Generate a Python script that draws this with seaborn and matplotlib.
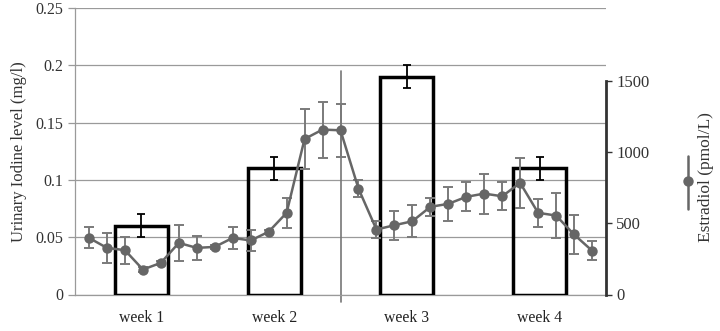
import numpy as np
import pandas as pd
import matplotlib
matplotlib.use("Agg")
import matplotlib.pyplot as plt
from matplotlib.lines import Line2D
import seaborn as sns

# weekly urinary iodine (mg/l)
weeks = ["week 1", "week 2", "week 3", "week 4"]
iodine = [0.06, 0.11, 0.19, 0.11]
iodine_err = [0.01, 0.01, 0.01, 0.01]

# daily estradiol (pmol/L)
estradiol = [397, 327, 311, 175, 222, 362, 327, 334, 397, 379, 440, 573, 1091, 1157, 1152,
             743, 456, 486, 514, 615, 636, 685, 708, 689, 783, 573, 554, 421, 308]
estradiol_err = [74, 104, 95, 15, 15, 128, 82, 15, 80, 75, 15, 103, 208, 196, 186,
                 62, 61, 102, 111, 64, 120, 102, 140, 99, 176, 99, 158, 134, 67]
days = list(range(len(estradiol)))

sns.set_style("white")
plt.rcParams["font.family"] = ["Liberation Serif", "DejaVu Serif"]

fig = plt.figure(figsize=(7.2, 3.31), dpi=100)
ax = fig.add_axes([75 / 720, 36.5 / 331, 531 / 720, 286.5 / 331])

df = pd.DataFrame({"week": weeks, "iodine": iodine})
sns.barplot(data=df, x="week", y="iodine", ax=ax, width=0.4, fill=False,
            edgecolor="black", linewidth=2.5, zorder=3)
ax.errorbar(range(len(weeks)), iodine, yerr=iodine_err, fmt="none", ecolor="black",
            elinewidth=1.3, capsize=3, capthick=1.3, zorder=4)
ax.set_xlim(-0.5, 3.5)
ax.set_ylim(0, 0.25)
ax.set_yticks([0, 0.05, 0.1, 0.15, 0.2, 0.25])
ax.set_yticklabels(["0", "0.05", "0.1", "0.15", "0.2", "0.25"])
ax.yaxis.grid(True, color="#9a9a9a", linewidth=0.9)
ax.set_axisbelow(True)
ax.set_xlabel("")
ax.set_ylabel("Urinary Iodine level (mg/l)", fontsize=12, color="#333333", labelpad=6)
ax.set_xticks([0.5, 1.5, 2.5, 3.5], minor=False)
ax.set_xticklabels([])
ax.set_xticks(range(len(weeks)), minor=True)
ax.set_xticklabels(weeks, minor=True)
ax.tick_params(axis="x", which="major", length=5, color="#999999", width=0.9, direction="out")
ax.tick_params(axis="x", which="minor", length=0, labelsize=11.3, pad=11, colors="#222222")
ax.tick_params(axis="y", length=5, color="#999999", width=0.9, labelsize=11.5,
               labelcolor="#333333", left=True, direction="out")
for s in ["top", "right"]:
    ax.spines[s].set_visible(False)
for s in ["left", "bottom"]:
    ax.spines[s].set_color("#9a9a9a")
    ax.spines[s].set_linewidth(0.9)

# divider between week 2 and week 3
ax.axvline(1.5, ymin=-0.026, ymax=0.78, color="#777777", linewidth=1.2, clip_on=False, zorder=2)

# secondary axis for estradiol
ax2 = ax.twinx()
ax2.set_ylim(0, 2010)
ax2.set_yticks([0, 500, 1000, 1500])
ax2.spines["right"].set_bounds(0, 1500)
ax2.spines["right"].set_color("#333333")
ax2.spines["right"].set_linewidth(2)
for s in ["top", "left", "bottom"]:
    ax2.spines[s].set_visible(False)
ax2.tick_params(axis="y", right=True, length=4, width=1, color="#333333", labelsize=12,
                labelcolor="#333333", direction="out")

ax3 = ax2.twiny()
ax3.set_xlim(-0.78, len(estradiol) - 1 + 0.78)
ax3.axis("off")
sns.lineplot(x=days, y=estradiol, ax=ax3, color="#666666", linewidth=1.8,
             marker="o", markersize=7.5, markeredgewidth=0, zorder=5)
ax3.errorbar(days, estradiol, yerr=estradiol_err, fmt="none", ecolor="#7a7a7a",
             elinewidth=1.4, capsize=3.6, capthick=1.4, zorder=4)
ax3.set_ylim(0, 2010)

# legend drawn as in the original: marker with vertical bar and rotated label
fig.add_artist(Line2D([688 / 720, 688 / 720], [1 - 156 / 331, 1 - 209 / 331],
                      color="#666666", linewidth=1.8))
fig.add_artist(Line2D([688 / 720], [1 - 181 / 331], marker="o", markersize=7.5,
                      color="#666666", markeredgewidth=0))
fig.text(706 / 720, 1 - 177 / 331, "Estradiol (pmol/L)", rotation=90, fontsize=12.5,
         color="#333333", ha="center", va="center")

fig.savefig("out.png", dpi=100)
